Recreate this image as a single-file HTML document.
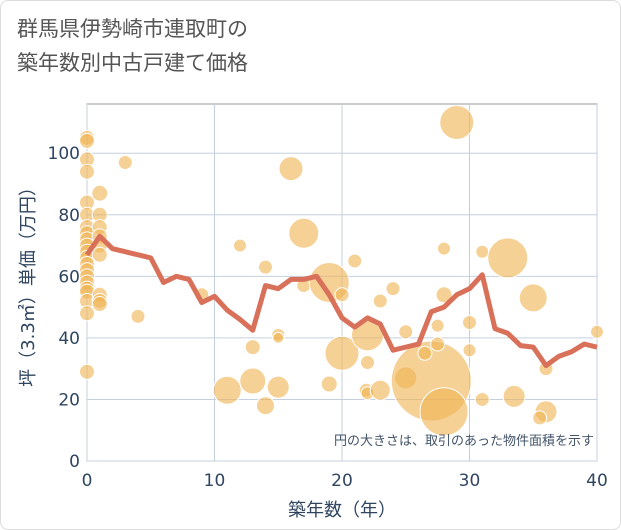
<!DOCTYPE html>
<html><head><meta charset="utf-8"><style>
body{margin:0;background:#fff;font-family:"Liberation Sans","Noto Sans CJK JP",sans-serif}
#wrap{position:relative;width:619px;height:528px;border:1px solid #ddd;border-radius:8px;overflow:hidden}
.title{position:absolute;left:16px;top:12px;font-size:21px;line-height:34px;color:#555}
</style></head><body>
<div id="wrap">
<div class="title">群馬県伊勢崎市連取町の<br>築年数別中古戸建て価格</div>
<svg id="chart" width="621" height="530" style="position:absolute;left:0;top:0"></svg>
</div>
<script>
const years=[0,1,2,3,4,5,6,7,8,9,10,11,12,13,14,15,16,17,18,19,20,21,22,23,24,25,26,27,28,29,30,31,32,33,34,35,36,37,38,39,40];
const avgPrice=[67,73,69,68,67,66,58,60,59,51.5,53.5,49,46,42.5,57,56,59,59,60,54,46.5,43.5,46.5,44.5,36,37,38,48.5,50,54,56,60.5,43,41.5,37.5,37,31,34,35.5,38,37];
const bubbleX=[0,0,0,0,0,0,0,0,0,0,0,0,0,0,0,0,0,0,0,0,0,1,1,1,1,1,1,1,1,1,3,4,9,12,13,11,13,14,15,14,15,15,16,17,17,19,20,21,20,19,21.9,22,23,22,23,24,22,25,25,27,28,26.5,27.5,27.5,28,28,29,31,33,35,30,30,31,33.5,36,35.5,36,40];
const bubbleY=[105,104,98,94,84,80,76,74,72,70,68,66,64,62,60,58,56,55,52,48,29,87,80,76,73,70,67,54,52,51,97,47,54,70,37,23,26,18,24,63,41,40,95,74,57,58,54,65,35,25,23,22,23,32,52,56,41,27,42,26,16,35,38,44,54,69,110,68,66,53,45,36,20,21,16,14,30,42];
const bubbleR=[7.5,7.5,7.5,7.5,7.5,7.5,7.5,7.5,7.5,7.5,7.5,7.5,7.5,7.5,7.5,7.5,7.5,7.5,7.5,7.5,7.5,8,7.5,7.5,7.5,7.5,7.5,7.5,7.5,7.5,7,7,7,6.5,7.5,14,13,9,11,7,6.5,5.5,12,15,7,20,7,7,17,8,7,6.5,10,7,7,7,16,11,7,40,24,7,7,6.5,8,6.5,17,6.5,20,14,7,6.5,7,11,11,7,7,6.5];
const xTicks=[0,10,20,30,40];
const yTicks=[0,20,40,60,80,100];
const NS="http://www.w3.org/2000/svg";
const svg=document.getElementById('chart');
const L=86,R=596,T=103,B=460,X0=0,X1=40,Y1=116;
const sx=v=>L+(v-X0)/(X1-X0)*(R-L);
const sy=v=>B-v/Y1*(B-T);
const TF='"DejaVu Sans","Noto Sans CJK JP",sans-serif';
function mk(t,a,p){const e=document.createElementNS(NS,t);for(const k in a)e.setAttribute(k,a[k]);(p||svg).appendChild(e);return e;}
let e;
e=mk('rect',{x:L,y:T,width:R-L,height:B-T,fill:'none',stroke:'#999','stroke-width':1});


xTicks.forEach(t=>{
 e=mk('line',{x1:sx(t),x2:sx(t),y1:T,y2:B,stroke:'#c5d0de','stroke-width':1});
 
 
 e=mk('text',{x:sx(t),y:B+25,'text-anchor':'middle','font-size':17,'font-family':TF,fill:'#2f4560'});e.textContent=t;
 
 
});
yTicks.forEach(t=>{
 e=mk('line',{x1:L,x2:R,y1:sy(t),y2:sy(t),stroke:'#c5d0de','stroke-width':1});
 
 
 e=mk('text',{x:L-7,y:sy(t)+6,'text-anchor':'end','font-size':17,'font-family':TF,fill:'#2f4560'});e.textContent=t;
 
 
});
const g=mk('g',{});


bubbleX.forEach((x,i)=>{
 e=mk('circle',{cx:sx(x),cy:sy(bubbleY[i]),r:bubbleR[i],fill:'rgb(240,178,80)','fill-opacity':0.6,stroke:'#fff','stroke-width':1},g);
 
 
});
e=mk('polyline',{points:years.map((y,i)=>sx(y)+','+sy(avgPrice[i])).join(' '),fill:'none',stroke:'#d8705a','stroke-width':5,'stroke-linejoin':'round'});


e=mk('text',{x:R-3,y:B-16,'text-anchor':'end','font-size':13,fill:'#44556a'});e.textContent='円の大きさは、取引のあった物件面積を示す';


e=mk('text',{x:(L+R)/2,y:515,'text-anchor':'middle','font-size':18,'font-family':TF,fill:'#2f4560'});e.textContent='築年数（年）';


e=mk('text',{x:0,y:0,'text-anchor':'middle','font-size':18,'font-family':TF,fill:'#2f4560',transform:'translate(33,'+((T+B)/2)+') rotate(-90)'});e.textContent='坪（3.3㎡）単価（万円）';


</script>
</body></html>
